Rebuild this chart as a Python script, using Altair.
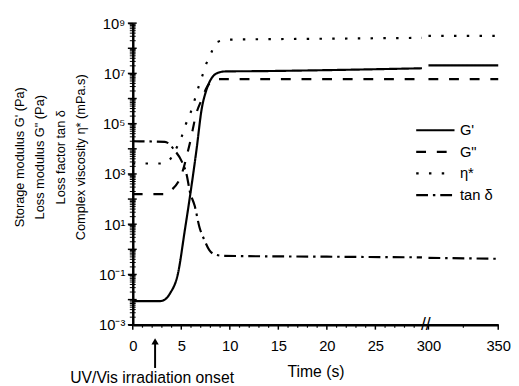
import altair as alt
import pandas as pd

# ---------------- data ----------------
series_names = ["G'", 'G"', "η*", "tan δ"]

gp_time = [0, 2.8, 3.3, 3.85, 4.66, 5.36, 5.87, 6.58, 7.09, 7.59, 8.2, 8.91, 9.6, 13, 20, 29.8, 300, 350]
gp_val = [0.0087, 0.0087, 0.010, 0.018, 0.11, 5.6, 110, 1.0e4, 3.6e5, 2.2e6, 7.1e6, 1.1e7, 1.2e7,
          1.23e7, 1.35e7, 1.6e7, 2.1e7, 2.1e7]

gpp_time = [0, 3.2, 4.0, 5.0, 5.87, 6.58, 7.09, 7.59, 8.2, 8.91, 10, 29.8, 300, 350]
gpp_val = [158, 158, 230, 890, 1.6e4, 2.8e5, 8.9e5, 2.6e6, 5.0e6, 5.9e6, 5.9e6, 5.9e6, 5.9e6, 5.9e6]

eta_time = [0, 2.8, 3.6, 4.35, 5.06, 5.47, 5.97, 6.38, 6.78, 7.19, 7.59, 8.1, 8.6, 9.9, 20, 29.8, 300, 350]
eta_val = [2.6e3, 2.6e3, 3.1e3, 8.3e3, 3.2e4, 9.5e4, 2.8e5, 8.9e5, 2.9e6, 8.5e6, 2.5e7, 6.8e7, 1.7e8,
           2.2e8, 2.4e8, 2.6e8, 3.1e8, 3.1e8]

tan_time = [0, 3.3, 4.35, 5.06, 5.57, 5.87, 6.38, 6.88, 7.39, 7.89, 8.6, 9.4, 20, 29.8, 300, 350]
tan_val = [2.0e4, 1.9e4, 8.3e3, 3.1e3, 870, 210, 54, 7.4, 2.3, 0.93, 0.60, 0.55, 0.51, 0.48, 0.46, 0.42]

x_major_ticks = [0, 5, 10, 15, 20, 25, 300, 350]
x_minor_ticks = [1, 2, 3, 4, 6, 7, 8, 9, 11, 12, 13, 14, 16, 17, 18, 19, 21, 22, 23, 24, 26, 27, 28, 29, 325]
y_exponents = [-3, -1, 1, 3, 5, 7, 9]
y_tick_labels = ["10⁻³", "10⁻¹", "10¹", "10³", "10⁵", "10⁷", "10⁹"]
y_decade_ticks = [1e-3, 1e-2, 1e-1, 1e0, 1e1, 1e2, 1e3, 1e4, 1e5, 1e6, 1e7, 1e8, 1e9]
y_minor_mult = [2, 3, 4, 5, 6, 7, 8, 9]

onset_time = 2.3
onset_label = "UV/Vis irradiation onset"

# ---------------- helpers (axis break) ----------------
BREAK_START = 300
POS_RIGHT0 = 30.47     # axis position of t = 300
POS_PER_S = 0.1438     # axis units per second on the right segment
pos_expr = f"datum.t <= 30 ? datum.t : {POS_RIGHT0} + (datum.t - {BREAK_START}) * {POS_PER_S}"


def to_pos(t):
    return round(t if t <= 30 else POS_RIGHT0 + (t - BREAK_START) * POS_PER_S, 4)


rows = []
for name, ts, vs in zip(series_names, [gp_time, gpp_time, eta_time, tan_time],
                        [gp_val, gpp_val, eta_val, tan_val]):
    for t, v in zip(ts, vs):
        rows.append({"series": name, "t": t, "value": v})
df = pd.DataFrame(rows)

FONT = "Liberation Sans"
W, H = 372, 307

x_vals = [to_pos(v) for v in x_major_ticks]
x_lab_parts = [f"abs(datum.value - {to_pos(v)}) < 0.01 ? '{v}'" for v in x_major_ticks]
x_label_expr = " : ".join(x_lab_parts) + " : ''"

y_vals = [float(f"1e{e}") for e in y_exponents]
y_lab_parts = [f"abs(log(datum.value)/LN10 - ({e})) < 0.001 ? '{lab}'" for e, lab in zip(y_exponents, y_tick_labels)]
y_label_expr = " : ".join(y_lab_parts) + " : ''"

dash_range = [[1, 0], [10, 11], [2.5, 10.5], [12, 5, 2.5, 5]]

x_enc = alt.X("pos:Q",
              scale=alt.Scale(domain=[0, to_pos(350)], nice=False, zero=False),
              axis=alt.Axis(values=x_vals, labelExpr=x_label_expr, title="Time (s)", ticks=False))
y_enc = alt.Y("value:Q",
              scale=alt.Scale(type="log", domain=[1e-3, 1e9], nice=False),
              axis=alt.Axis(values=y_vals, labelExpr=y_label_expr, ticks=True, tickSize=5,
                            tickWidth=1.5, tickColor="black", labelPadding=3,
                            title=["Storage modulus G' (Pa)", 'Loss modulus G" (Pa)',
                                   "Loss factor tan δ", "Complex viscosity η* (mPa.s)"]))

base = alt.Chart(df).transform_calculate(pos=pos_expr, seg="datum.t > 30 ? 1 : 0")

lines = base.mark_line(color="black", strokeWidth=2.2, interpolate="monotone").encode(
    x=x_enc, y=y_enc,
    strokeDash=alt.StrokeDash("series:N",
                              scale=alt.Scale(domain=series_names, range=dash_range),
                              legend=alt.Legend(orient="none", legendX=300, legendY=101, title=None,
                                                symbolType="M-3,0H3", symbolSize=169,
                                                symbolStrokeWidth=2.2, symbolStrokeColor="black",
                                                labelFontSize=15, labelFont=FONT, labelOffset=17,
                                                rowPadding=6)),
    detail="seg:N",
)

# ---- axis tick marks (drawn through the scales) ----
xt_major = alt.Chart(pd.DataFrame({"t": x_major_ticks})).transform_calculate(pos=pos_expr).mark_rule(
    color="black", strokeWidth=1.5).encode(x="pos:Q", y=alt.value(H), y2=alt.value(H + 5))
xt_minor = alt.Chart(pd.DataFrame({"t": x_minor_ticks})).transform_calculate(pos=pos_expr).mark_rule(
    color="black", strokeWidth=1.2).encode(x="pos:Q", y=alt.value(H), y2=alt.value(H + 3))

yt_major = alt.Chart(pd.DataFrame({"yv": y_decade_ticks})).transform_calculate(
    value="datum.yv").mark_rule(color="black", strokeWidth=1.5).encode(
    y="value:Q", x=alt.value(-5), x2=alt.value(4))
minor_vals = [m * d for d in y_decade_ticks[:-1] for m in y_minor_mult]
yt_minor = alt.Chart(pd.DataFrame({"yv": minor_vals})).transform_calculate(
    value="datum.yv").mark_rule(color="black", strokeWidth=1).encode(
    y="value:Q", x=alt.value(-3), x2=alt.value(3))

annot_df = pd.DataFrame({"t": [onset_time], "label": [onset_label]})
annot = alt.Chart(annot_df).transform_calculate(pos=pos_expr)

arrow_shaft = annot.mark_rule(color="black", strokeWidth=2).encode(
    x="pos:Q", y=alt.value(H + 19), y2=alt.value(H + 44))
arrow_head = annot.mark_point(shape="triangle-up", filled=True, color="black", size=55, opacity=1).encode(
    x="pos:Q", y=alt.value(H + 17))
onset_text = annot.mark_text(fontSize=16, font=FONT, baseline="alphabetic", align="center", dx=-3).encode(
    x="pos:Q", y=alt.value(H + 59), text="label:N")
brk_text = annot.mark_text(fontSize=18, font=FONT, text="//", baseline="middle",
                           align="center").encode(x=alt.datum(30.2), y=alt.value(H))

chart = alt.layer(lines, xt_major, xt_minor, yt_major, yt_minor,
                  arrow_shaft, arrow_head, onset_text, brk_text).properties(
    width=W, height=H, padding={"left": 5, "top": 5, "right": 0, "bottom": 0}
).configure_axis(
    labelFont=FONT, titleFont=FONT, labelFontSize=15, titleFontSize=16, titleFontWeight="normal",
    labelColor="black", titleColor="black", domainColor="black",
    domainWidth=2.5, grid=False, labelOverlap=False, labelFlush=False,
).configure_axisY(
    titleFontSize=13, titleLineHeight=21, titlePadding=11, titleY=136,
).configure_axisX(
    titlePadding=11, labelPadding=14,
).configure_view(stroke=None)

chart.save("out.html", embed_options={"renderer": "svg", "actions": False})
